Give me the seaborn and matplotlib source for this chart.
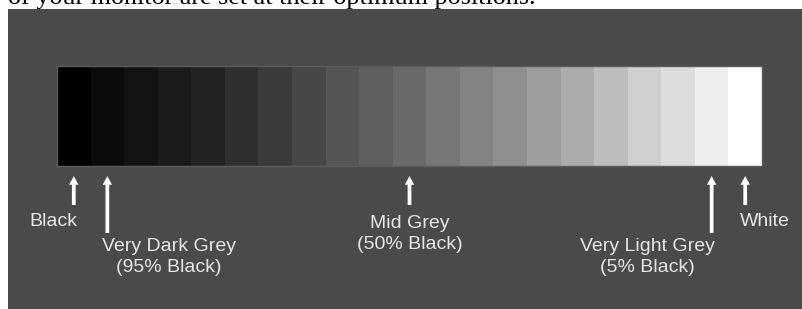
import matplotlib
matplotlib.use("Agg")
import matplotlib.pyplot as plt
import numpy as np
import seaborn as sns

# grey level of each step in the strip (0 = black, 255 = white)
grey_levels = [0, 11, 18, 26, 34, 46, 58, 71, 85, 95, 106,
               119, 131, 143, 158, 172, 189, 207, 221, 238, 255]

# which step each arrow points at, with its label and label position (px from top-left)
marker_steps = [0, 1, 10, 19, 20]
marker_labels = ["Black", "Very Dark Grey\n(95% Black)", "Mid Grey\n(50% Black)",
                 "Very Light Grey\n(5% Black)", "White"]
arrow_bases = [205, 233, 205, 233, 205]
label_x = [53, 169, 410, 647, 765]
label_y = [221, 257, 234, 257, 221]

caption = "of your monitor are set at their optimum positions."

W, H = 803, 309
PANEL = "#4a4a4a"
TEXT = "#e6e6e6"

sns.set_theme(style="white")
plt.rcParams["font.family"] = ["Liberation Sans", "DejaVu Sans"]

fig = plt.figure(figsize=(W / 100, H / 100), dpi=100, facecolor="white")

# dark panel behind everything
panel = fig.add_axes([8 / W, 0, (W - 8) / W, (H - 9) / H])
panel.set_facecolor(PANEL)
panel.set_xticks([])
panel.set_yticks([])
for s in panel.spines.values():
    s.set_visible(False)

# caption, cut off by the top edge of the image as in the source
fig.text(8 / W, (H - 4) / H, caption, family="Liberation Serif", fontsize=18.8,
         color="black", ha="left", va="baseline")

# grey step strip
strip = fig.add_axes([57 / W, (H - 166) / H, 705 / W, 100 / H])
sns.heatmap(np.array([grey_levels]), ax=strip, cmap="gray", vmin=0, vmax=255,
            cbar=False, xticklabels=False, yticklabels=False)
for s in strip.spines.values():
    s.set_visible(True)
    s.set_color("#5c5c5c")
    s.set_linewidth(1)

tip_y = 176
for step, base, lab, lx, ly in zip(marker_steps, arrow_bases, marker_labels, label_x, label_y):
    strip.annotate("", xy=(step + 0.5, H - tip_y), xytext=(step + 0.5, H - base),
                   xycoords=("data", "figure pixels"), textcoords=("data", "figure pixels"),
                   annotation_clip=False,
                   arrowprops=dict(arrowstyle="simple,head_length=0.42,head_width=0.45,tail_width=0.18",
                                   mutation_scale=15, color="white", lw=0,
                                   shrinkA=0, shrinkB=0))
    fig.text(lx / W, (H - ly) / H, lab, color=TEXT, fontsize=14, ha="center",
             va="center", multialignment="center", linespacing=1.25)

fig.savefig("out.png", dpi=100, facecolor="white")
